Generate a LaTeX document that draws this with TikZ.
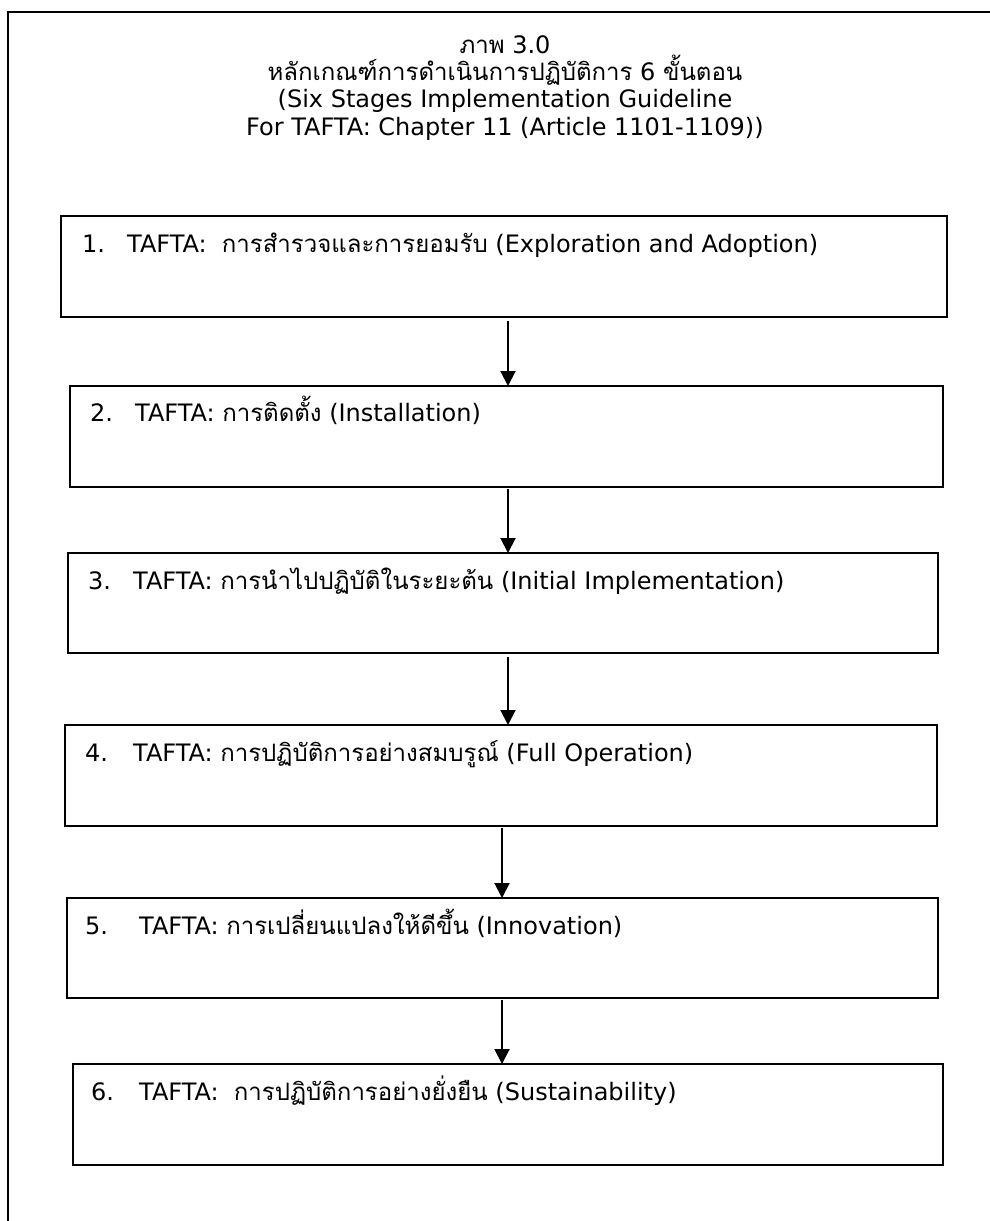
\documentclass[tikz,border=0pt]{standalone}
\usepackage{fontspec}
\setmainfont{DejaVu Sans}
\newfontfamily\thai[Script=Thai]{Loma}
\usetikzlibrary{arrows.meta}
\begin{document}
\begin{tikzpicture}[x=1pt,y=-1pt,
  stagebox/.style={draw, line width=2pt, anchor=north west, inner sep=0pt, outer sep=0pt},
  stagetext/.style={anchor=base west, inner sep=0pt, font=\fontsize{24}{28}\selectfont},
  titletext/.style={anchor=base, inner sep=0pt, font=\fontsize{24}{28}\selectfont},
  arr/.style={line width=2pt, -{Triangle[width=15pt,length=15pt]}},
  frameline/.style={line width=2pt}]
\useasboundingbox (0,0) rectangle (989,1221);
% outer frame (open to the right and bottom)
\coordinate (fbl) at (8,1240);
\coordinate (ftl) at (8,12);
\coordinate (ftr) at (1010,12);
\draw[frameline] (fbl) -- (ftl) -- (ftr);
% title
\node[titletext] (h1) at (505,53) {{\thai ภาพ} 3.0};
\node[titletext] (h2) at (505,80) {{\thai หลักเกณฑ์การดำเนินการปฏิบัติการ} 6 {\thai ขั้นตอน}};
\node[titletext] (h3) at (505,107) {(Six Stages Implementation Guideline};
\node[titletext] (h4) at (505,135) {For TAFTA: Chapter 11 (Article 1101-1109))};
% boxes
\node[stagebox, minimum width=886pt, minimum height=101pt] (b1) at (61,216) {};
\node[stagebox, minimum width=873pt, minimum height=101pt] (b2) at (70,386) {};
\node[stagebox, minimum width=870pt, minimum height=100pt] (b3) at (68,553) {};
\node[stagebox, minimum width=872pt, minimum height=101pt] (b4) at (65,725) {};
\node[stagebox, minimum width=871pt, minimum height=100pt] (b5) at (67,898) {};
\node[stagebox, minimum width=870pt, minimum height=101pt] (b6) at (73,1064) {};
% texts
\node[stagetext] (t1) at (82,252) {\makebox[45pt][l]{1.}TAFTA:\ \ {\thai การสำรวจและการยอมรับ} (Exploration and Adoption)};
\node[stagetext] (t2) at (90,421) {\makebox[45pt][l]{2.}TAFTA: {\thai การติดตั้ง} (Installation)};
\node[stagetext] (t3) at (88,589) {\makebox[45pt][l]{3.}TAFTA: {\thai การนำไปปฏิบัติในระยะต้น} (Initial Implementation)};
\node[stagetext] (t4) at (85,761) {\makebox[48pt][l]{4.}TAFTA: {\thai การปฏิบัติการอย่างสมบรูณ์} (Full Operation)};
\node[stagetext] (t5) at (85,934) {\makebox[54pt][l]{5.}TAFTA: {\thai การเปลี่ยนแปลงให้ดีขึ้น} (Innovation)};
\node[stagetext] (t6) at (91,1100) {\makebox[48pt][l]{6.}TAFTA:\ \ {\thai การปฏิบัติการอย่างยั่งยืน} (Sustainability)};
% arrows
\coordinate (ca) at (508,0);
\coordinate (cb) at (502,0);
\draw[arr] ([yshift=-4pt]b1.south -| ca) -- (b2.north -| ca);
\draw[arr] ([yshift=-2pt]b2.south -| ca) -- (b3.north -| ca);
\draw[arr] ([yshift=-4pt]b3.south -| ca) -- (b4.north -| ca);
\draw[arr] ([yshift=-2pt]b4.south -| cb) -- (b5.north -| cb);
\draw[arr] ([yshift=-2pt]b5.south -| cb) -- (b6.north -| cb);
\end{tikzpicture}
\end{document}
